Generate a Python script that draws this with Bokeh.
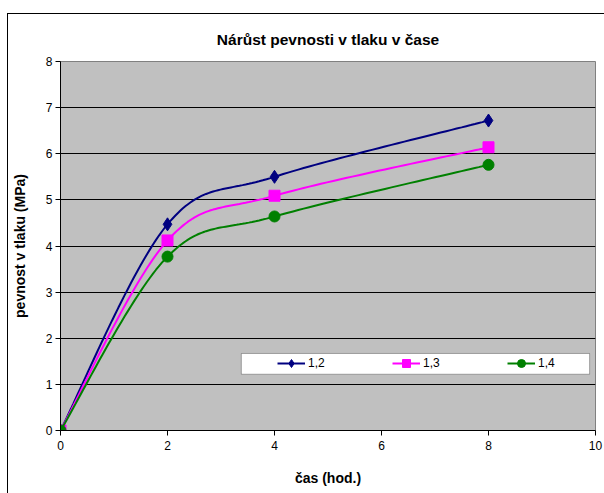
import numpy as np
from bokeh.plotting import figure
from bokeh.models import FixedTicker, Legend, LegendItem, BoxAnnotation
from bokeh.embed import file_html
from bokeh.resources import INLINE

# ---- data ----
hours = [0, 2, 4, 8]
series_names = ["1,2", "1,3", "1,4"]
s12 = [0.0, 4.47, 5.50, 6.72]
s13 = [0.0, 4.12, 5.09, 6.14]
s14 = [0.0, 3.77, 4.64, 5.76]
x_ticks = [0, 2, 4, 6, 8, 10]
y_ticks = [0, 1, 2, 3, 4, 5, 6, 7, 8]

title_text = "Nárůst pevnosti v tlaku v čase"
x_label = "čas (hod.)"
y_label = "pevnost v tlaku (MPa)"

FONT = "Liberation Sans"


def smooth(xs, ys, n=40):
    """Excel-like smoothed line (Catmull-Rom style Bezier, tension 1/6)."""
    P = np.column_stack([xs, ys]).astype(float)
    m = len(P)
    out = []
    for i in range(m - 1):
        p0 = P[i - 1] if i > 0 else P[i]
        p1 = P[i]
        p2 = P[i + 1]
        p3 = P[i + 2] if i + 2 < m else P[i + 1]
        c1 = p1 + (p2 - p0) / 6.0
        c2 = p2 - (p3 - p1) / 6.0
        t = np.linspace(0, 1, n)[:, None]
        seg = ((1 - t) ** 3) * p1 + 3 * ((1 - t) ** 2) * t * c1 + 3 * (1 - t) * t ** 2 * c2 + t ** 3 * p2
        if i > 0:
            seg = seg[1:]
        out.append(seg)
    pts = np.vstack(out)
    return pts[:, 0], pts[:, 1]


p = figure(width=597, height=480, x_range=(0, 10), y_range=(0, 8),
           output_backend="svg", toolbar_location=None,
           min_border_left=51, min_border_right=10, min_border_top=0, min_border_bottom=64)
p.margin = (13, 0, 0, 7)
p.styles = {"border-left": "1px solid black", "border-top": "1px solid black"}

p.title.text = title_text
p.title.align = "center"
p.title.text_font = FONT
p.title.text_font_size = "15.5px"
p.title.text_font_style = "bold"
p.title.text_color = "black"
p.title.text_line_height = 2.5
p.title.standoff = 28

p.background_fill_color = "#C0C0C0"
p.border_fill_color = "white"
p.outline_line_color = "#808080"
p.outline_line_width = 1

p.xgrid.grid_line_color = None
p.ygrid.grid_line_color = "black"
p.ygrid.grid_line_width = 1

for ax in (p.xaxis[0], p.yaxis[0]):
    ax.axis_line_color = "black"
    ax.major_tick_line_color = "black"
    ax.major_tick_in = 0
    ax.major_tick_out = 5
    ax.minor_tick_line_color = None
    ax.major_label_text_font = FONT
    ax.major_label_text_font_size = "12px"
    ax.major_label_text_color = "black"
    ax.axis_label_text_font = FONT
    ax.axis_label_text_font_size = "14px"
    ax.axis_label_text_font_style = "bold"
    ax.axis_label_text_color = "black"

p.xaxis.ticker = FixedTicker(ticks=x_ticks)
p.yaxis.ticker = FixedTicker(ticks=y_ticks)
p.xaxis.axis_label = x_label
p.yaxis.axis_label = y_label
p.xaxis.major_label_standoff = 5
p.yaxis.major_label_standoff = 3
p.xaxis.axis_label_standoff = 17
p.yaxis.axis_label_standoff = 15

colors = ["#000080", "#FF00FF", "#008000"]
markers = ["diamond", "square", "circle"]
sizes = [13, 11, 11]
items = []
for name, ys, col, mk, sz in zip(series_names, [s12, s13, s14], colors, markers, sizes):
    sx, sy = smooth(hours, ys)
    lr = p.line(sx, sy, line_color=col, line_width=2)
    sr = p.scatter(hours, ys, marker=mk, size=sz, fill_color=col, line_color=col)
    items.append(LegendItem(label=name, renderers=[lr, sr]))

# legend box (white, black border) behind the horizontal legend
box = BoxAnnotation(left=3.38, right=9.89, bottom=1.22, top=1.67,
                    fill_color="white", fill_alpha=1.0,
                    line_color="black", line_width=1, level="annotation")
p.add_layout(box)

legend = Legend(items=items, orientation="horizontal", location=(217, 57))
legend.background_fill_alpha = 0
legend.border_line_color = None
legend.padding = 5
legend.spacing = 64
legend.glyph_width = 28
legend.glyph_height = 20
legend.label_standoff = 3
legend.label_width = 20
legend.label_text_font = FONT
legend.label_text_font_size = "12px"
legend.label_text_color = "black"
p.add_layout(legend, "center")

open("out.html", "w").write(file_html(p, INLINE))
